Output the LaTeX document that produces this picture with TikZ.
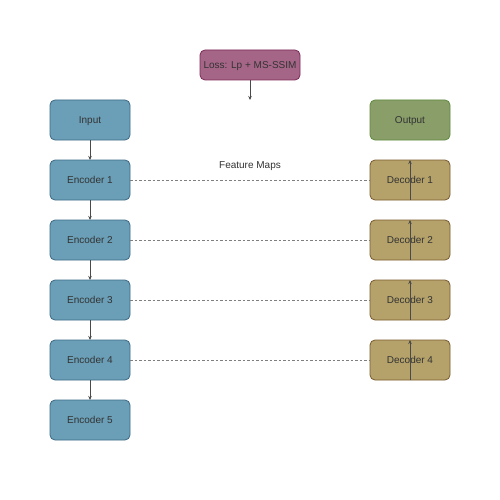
\documentclass[tikz,border=0pt]{standalone}
\usepackage{fontspec}
\setmainfont{Liberation Sans}
\usepackage{xcolor}
\usetikzlibrary{positioning, arrows.meta, shapes.geometric, calc}

\definecolor{encfill}{HTML}{6A9FB7}
\definecolor{encdraw}{HTML}{3D6A88}
\definecolor{decfill}{HTML}{B5A26A}
\definecolor{decdraw}{HTML}{7A5C2E}
\definecolor{outfill}{HTML}{8A9E6A}
\definecolor{outdraw}{HTML}{5E8A3C}
\definecolor{lossfill}{HTML}{A56587}
\definecolor{lossdraw}{HTML}{7D2A58}
\definecolor{txt}{HTML}{333333}
\definecolor{arrowcol}{HTML}{4A4A4A}
\definecolor{skipcol}{HTML}{7F7F7F}

\tikzset{
  block/.style={rounded corners=5pt, line width=0.8pt, minimum width=80pt,
    minimum height=40pt, inner sep=0pt, outer sep=0pt, text=txt,
    text height=7pt, text depth=0pt, font=\fontsize{10}{12}\selectfont},
  encblock/.style={block, fill=encfill, draw=encdraw},
  decblock/.style={block, fill=decfill, draw=decdraw},
  outblock/.style={block, fill=outfill, draw=outdraw},
  lossblock/.style={block, fill=lossfill, draw=lossdraw, minimum width=100pt, minimum height=30pt},
  flow/.style={draw=arrowcol, line width=0.9pt, -{Stealth[length=4pt,width=3.5pt]}},
  skip/.style={draw=skipcol, line width=0.9pt, dash pattern=on 2.5pt off 2pt}
}

\begin{document}
\begin{tikzpicture}[x=1pt, y=-1pt, node distance=20pt]

      \useasboundingbox[fill=white] (0,0) rectangle (500,500);

      % Encoder path
      \node[encblock] (input) at (90,120) {Input};
      \node[encblock, below=of input] (enc1) {Encoder 1};
      \node[encblock, below=of enc1] (enc2) {Encoder 2};
      \node[encblock, below=of enc2] (enc3) {Encoder 3};
      \node[encblock, below=of enc3] (enc4) {Encoder 4};
      \node[encblock, below=of enc4] (enc5) {Encoder 5};

      % Decoder path
      \foreach \i in {1,...,4}
        \node[decblock, right=240pt of enc\i] (dec\i) {Decoder \i};
      \node[outblock, above=of dec1] (output) {Output};

      % Loss
      \node[lossblock] (loss) at (250,65) {Loss: Lp + MS-SSIM};
      \coordinate (lossend) at (250,100);

      % Arrows
      \draw[flow] (input) -- (enc1);
      \foreach \i/\j in {1/2,2/3,3/4,4/5}
        \draw[flow] (enc\i) -- (enc\j);
      \foreach \i in {1,...,4}
        \draw[flow] (dec\i.south) -- (dec\i.north);
      \draw[flow] (loss) -- (lossend);

      % Skip connections
      \foreach \i in {1,...,4}
        \draw[skip] (enc\i) -- (dec\i);
      \node[text=txt, font=\fontsize{10}{12}\selectfont] (fmaps) at (250,166) {Feature Maps};

    \end{tikzpicture}
\end{document}
